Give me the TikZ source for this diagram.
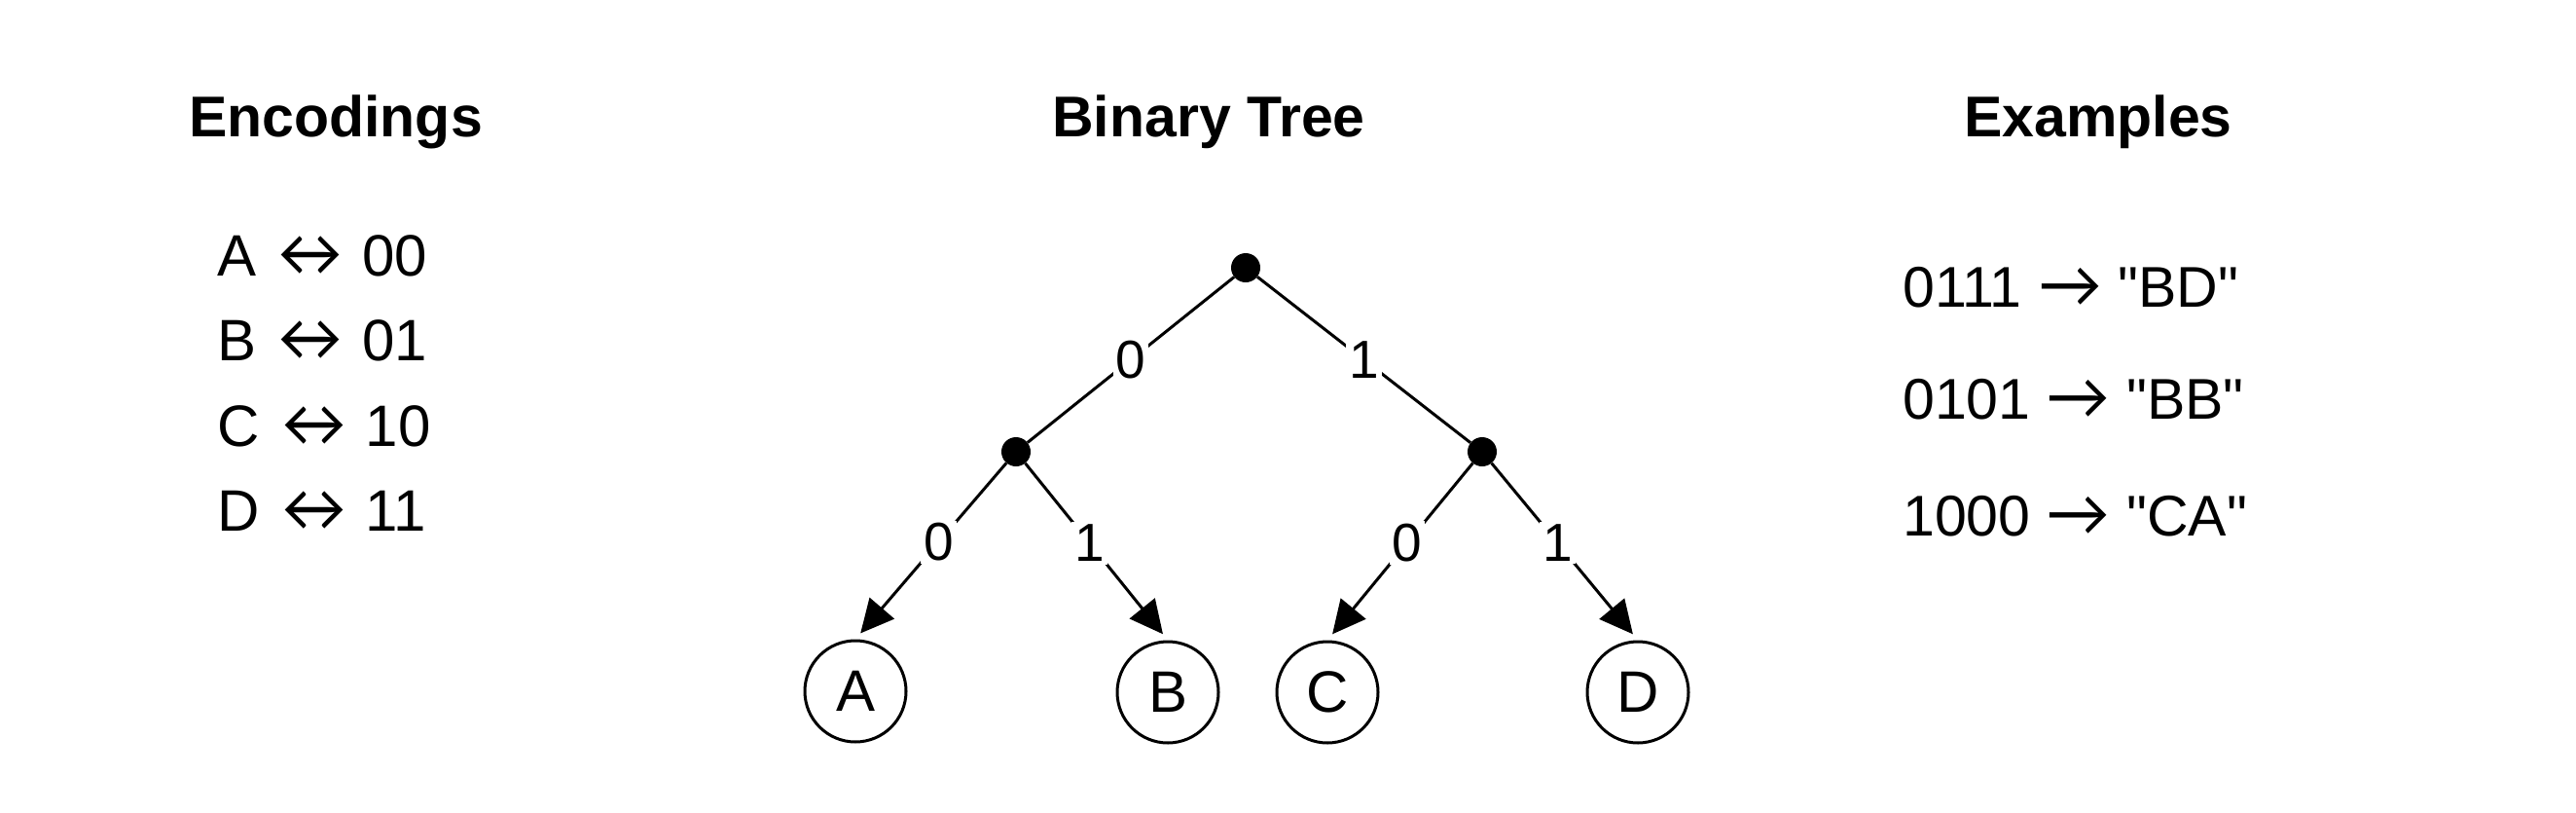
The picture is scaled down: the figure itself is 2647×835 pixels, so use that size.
\documentclass[tikz,border=0pt]{standalone}
\usepackage{fontspec}
\newfontfamily\lsans{Liberation Sans}
\newfontfamily\arrfont{Lato}
\newcommand{\lra}{\hspace{6pt}{\arrfont\fontsize{67}{72}\selectfont ↔}\hspace{3pt}}
\newcommand{\rar}{{\arrfont\fontsize{66}{72}\selectfont →}}
\usetikzlibrary{arrows.meta}
\tikzset{
  ttl/.style={font=\lsans\bfseries\fontsize{59}{70}\selectfont, inner sep=0pt, anchor=base},
  txt/.style={font=\lsans\fontsize{60}{72}\selectfont, inner sep=0pt, anchor=base west},
  ex/.style={font=\lsans\fontsize{59}{70}\selectfont, inner sep=0pt, anchor=base west},
  dot/.style={circle, fill=black, inner sep=0pt, minimum size=30pt},
  leaf/.style={circle, draw=black, line width=3pt, inner sep=0pt, minimum size=104pt, font=\lsans\fontsize{60}{72}\selectfont},
  edge/.style={line width=3pt},
  arr/.style={line width=3pt, -{Triangle[length=34pt,width=33pt]}, shorten >=8pt},
  lbl/.style={fill=white, inner sep=3pt, font=\lsans\fontsize{55}{64}\selectfont}
}
\begin{document}
\begin{tikzpicture}[x=1pt,y=-1pt]
\useasboundingbox[fill=white] (0,0) rectangle (2647,835);
% titles
\node[ttl] (t1) at (345,140) {Encodings};
\node[ttl] (t2) at (1242,140) {Binary Tree};
\node[ttl] (t3) at (2156,140) {Examples};
% encodings
\node[txt] (e1) at (223,283) {A \lra{} 00};
\node[txt] (e2) at (223,370) {B \lra{} 01};
\node[txt] (e3) at (223,458) {C \lra{} 10};
\node[txt] (e4) at (223,545) {D \lra{} 11};
% examples
\node[ex] (x1) at (1955,315) {0111 \rar{} "BD"};
\node[ex] (x2) at (1955,430) {0101 \rar{} "BB"};
\node[ex] (x3) at (1955,550) {1000 \rar{} "CA"};
% tree
\node[dot] (root) at (1280,275) {};
\node[dot] (L) at (1044,464) {};
\node[dot] (R) at (1523,464) {};
\node[leaf] (A) at (879,710) {A};
\node[leaf] (B) at (1200,711) {B};
\node[leaf] (C) at (1364,711) {C};
\node[leaf] (D) at (1683,711) {D};
\draw[edge] (root) -- node[lbl] {0} (L);
\draw[edge] (root) -- node[lbl] {1} (R);
\draw[arr] (L) -- node[lbl, pos=0.45] {0} (A.north);
\draw[arr] (L) -- node[lbl, pos=0.45] {1} (B.north);
\draw[arr] (R) -- node[lbl, pos=0.45] {0} (C.north);
\draw[arr] (R) -- node[lbl, pos=0.45] {1} (D.north);
\end{tikzpicture}
\end{document}
